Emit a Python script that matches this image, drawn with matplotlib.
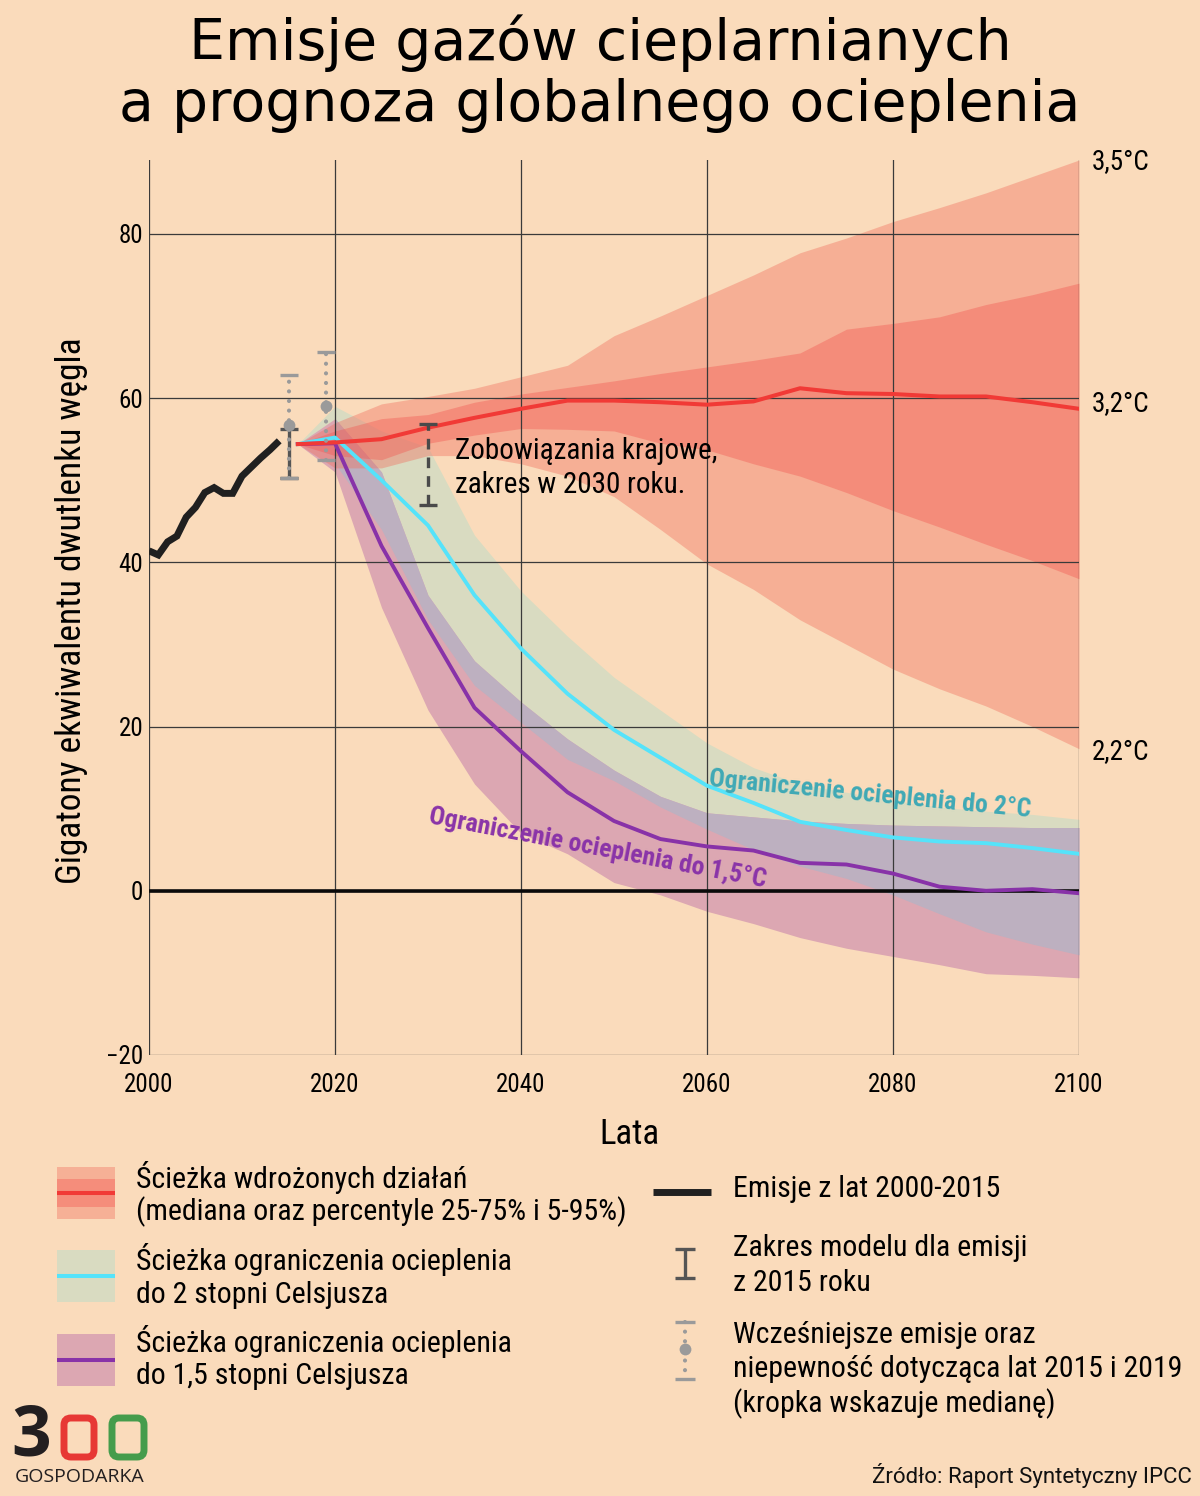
import numpy as np
import matplotlib
matplotlib.use("Agg")
import matplotlib.pyplot as plt
from matplotlib import font_manager as fm
from matplotlib.patches import FancyBboxPatch, Rectangle

# Emissions 2000-2014
hist_years = list(range(2000, 2015))
hist_vals = [41.4, 40.9, 42.5, 43.2, 45.5, 46.7, 48.5, 49.1, 48.4, 48.4, 50.5, 51.6, 52.7, 53.7, 54.8]

# Scenario years
years = [2016, 2020, 2025, 2030, 2035, 2040, 2045, 2050, 2055, 2060, 2065, 2070, 2075, 2080, 2085, 2090, 2095, 2100]

# Current policies path
red_med = [54.4, 54.6, 55.0, 56.4, 57.6, 58.7, 59.7, 59.7, 59.5, 59.2, 59.6, 61.2, 60.6, 60.5, 60.2, 60.2, 59.5, 58.7]
red_p95 = [54.4, 57.0, 59.3, 60.2, 61.2, 62.6, 64.0, 67.6, 70.0, 72.5, 75.0, 77.7, 79.5, 81.5, 83.2, 85.0, 87.0, 89.0]
red_p75 = [54.4, 56.0, 57.5, 58.0, 59.5, 60.5, 61.3, 62.1, 63.0, 63.8, 64.6, 65.5, 68.4, 69.1, 69.9, 71.4, 72.6, 74.0]
red_p25 = [54.4, 53.0, 52.5, 54.5, 55.5, 56.3, 56.2, 56.0, 54.5, 53.7, 52.0, 50.5, 48.5, 46.3, 44.3, 42.2, 40.2, 38.0]
red_p05 = [54.4, 51.5, 51.5, 53.0, 53.0, 52.0, 50.5, 48.0, 44.0, 39.8, 36.7, 33.0, 30.0, 27.0, 24.6, 22.5, 20.0, 17.3]

# 2 degree path
c2_med = [54.4, 55.2, 50.0, 44.5, 36.0, 29.5, 24.0, 19.6, 16.2, 12.8, 10.7, 8.4, 7.4, 6.5, 6.0, 5.8, 5.2, 4.5]
c2_hi = [54.4, 59.0, 56.0, 54.0, 43.3, 36.5, 31.0, 26.0, 22.0, 18.0, 15.0, 13.0, 12.0, 11.0, 10.2, 9.7, 9.3, 8.7]
c2_lo = [54.4, 52.0, 44.0, 33.0, 25.0, 20.5, 16.0, 13.4, 10.2, 7.5, 5.0, 3.0, 1.5, -0.5, -2.8, -5.0, -6.5, -7.8]

# 1.5 degree path
c15_med = [54.4, 54.5, 42.0, 32.0, 22.3, 17.0, 12.0, 8.5, 6.3, 5.4, 4.9, 3.4, 3.2, 2.1, 0.5, 0.0, 0.2, -0.3]
c15_hi = [54.4, 57.5, 51.0, 36.0, 28.0, 23.0, 18.5, 14.7, 11.5, 9.5, 9.0, 8.5, 8.2, 8.0, 7.9, 7.8, 7.7, 7.7]
c15_lo = [54.4, 51.0, 34.5, 22.0, 13.0, 7.0, 4.5, 1.0, -0.5, -2.5, -4.0, -5.7, -7.0, -8.0, -9.0, -10.1, -10.3, -10.6]

# Range bars: year, low, high, median
model_2015 = (2015, 50.3, 56.3)
prior_2015 = (2015, 50.3, 62.8, 56.7)
prior_2019 = (2019, 52.5, 65.6, 59.0)
ndc_2030 = (2030, 47.0, 56.8)

x_ticks = [2000, 2020, 2040, 2060, 2080, 2100]
y_ticks = [-20, 0, 20, 40, 60, 80]

BG = "#FADBBB"
NARROW = ["Roboto Condensed", "Liberation Sans Narrow", "Roboto"]
installed = {f.name for f in fm.fontManager.ttflist}
NARROW = [f for f in NARROW if f in installed]
print(NARROW)

fig = plt.figure(figsize=(12, 14.96), dpi=100, facecolor=BG)
ax = fig.add_axes([149 / 1200, 1 - 1055 / 1496, 930 / 1200, 895 / 1496], facecolor=BG)
ax.set_xlim(2000, 2100)
ax.set_ylim(-20, 89)

# Bands
ax.fill_between(years, c2_lo, c2_hi, color="#D9DBC1", lw=0, zorder=1)
ax.fill_between(years, c15_lo, c15_hi, color="#DCA7B2", lw=0, zorder=1.1)
lap_lo = np.maximum(c2_lo, c15_lo)
lap_hi = np.minimum(c2_hi, c15_hi)
ax.fill_between(years, lap_lo, lap_hi, where=lap_hi > lap_lo, color="#BDB0C0", lw=0, zorder=1.2)
ax.fill_between(years, red_p05, red_p95, color="#F06F5E", alpha=0.4, lw=0, zorder=1.3)
ax.fill_between(years, red_p25, red_p75, color="#F35852", alpha=0.4, lw=0, zorder=1.4)

ax.set_axisbelow(False)
ax.grid(True, color="#3A3A3A", lw=0.9)
for spine in ax.spines.values():
    spine.set_visible(False)
ax.set_xticks(x_ticks)
ax.set_yticks(y_ticks)
ax.tick_params(length=0, labelsize=18, pad=4)
for lab in ax.get_xticklabels() + ax.get_yticklabels():
    lab.set_family(NARROW)
ax.tick_params(axis="x", pad=13)

ax.axhline(0, color="#0A0A0A", lw=2.6, zorder=2.6)

# Lines
ax.plot(hist_years, hist_vals, color="#202020", lw=5, solid_capstyle="butt", solid_joinstyle="miter", zorder=4)
ax.plot(years, c2_med, color="#55E3FA", lw=2.8, zorder=4.1)
ax.plot(years, c15_med, color="#8832A8", lw=2.8, zorder=4.2)
ax.plot(years, red_med, color="#F13A36", lw=2.9, zorder=4.3)


def range_bar(axis, x, lo, hi, color, ls, lw=2.2, cap=13.5, z=5):
    axis.plot([x, x], [lo, hi], color=color, lw=lw, ls=ls, zorder=z, dash_capstyle="round" if ls[1][0] < 1 else "butt")
    axis.plot([x, x], [lo, hi], ls="none", marker="_", ms=cap, mew=2.4, color=color, zorder=z)


SOLID = (0, (100, 0))
DOTS = (0, (0.01, 2.3))
DASH = (0, (3.2, 2.4))
range_bar(ax, model_2015[0], model_2015[1], model_2015[2], "#555555", SOLID, lw=2.4)
for x, lo, hi, med in (prior_2015, prior_2019):
    range_bar(ax, x, lo, hi, "#9A9A9A", DOTS, lw=3, z=5.2)
    ax.plot([x], [med], marker="o", ms=8.5, color="#9A9A9A", mew=0, zorder=5.3)
range_bar(ax, ndc_2030[0], ndc_2030[1], ndc_2030[2], "#4A4A4A", DASH, lw=2.4, z=5.4)

# Overlay in pixel coordinates for title, legend and notes
ov = fig.add_axes([0, 0, 1, 1], facecolor="none")
ov.set_xlim(0, 1200)
ov.set_ylim(1496, 0)
ov.axis("off")

ov.text(600, 43, "Emisje gazów cieplarnianych", ha="center", va="center", fontsize=41, family="DejaVu Sans", color="black")
ov.text(600, 105, "a prognoza globalnego ocieplenia", ha="center", va="center", fontsize=41, family="DejaVu Sans", color="black")


def label(x, y, s, size=21.5, ha="left", **kw):
    ov.text(x, y, s, ha=ha, va="center", fontsize=size, family=NARROW, color=kw.pop("color", "black"), **kw)


for y, s in ((163, "3,5°C"), (405, "3,2°C"), (753, "2,2°C")):
    label(1092, y, s, size=19.5)

label(72, 611, "Gigatony ekwiwalentu dwutlenku węgla", size=25.5, ha="center", rotation=90)
label(629, 1134, "Lata", size=25, ha="center")
label(455, 451, "Zobowiązania krajowe,", size=21)
label(455, 485, "zakres w 2030 roku.", size=21)
label(870, 795, "Ograniczenie ocieplenia do 2°C", size=18.5, ha="center", rotation=-5.5, color="#3FA9B5", fontweight="bold")
label(598, 848, "Ograniczenie ocieplenia do 1,5°C", size=18.5, ha="center", rotation=-10.8, color="#8A34A8", fontweight="bold")

# Legend swatches
ov.add_patch(Rectangle((57, 1167), 58, 52, color="#F6B096", lw=0))
ov.add_patch(Rectangle((57, 1179), 58, 28, color="#F58D7B", lw=0))
ov.plot([57, 115], [1193, 1193], color="#F13A36", lw=2.9, solid_capstyle="butt")
ov.add_patch(Rectangle((57, 1250), 58, 52, color="#D9DBC1", lw=0))
ov.plot([57, 115], [1276, 1276], color="#55E3FA", lw=2.9, solid_capstyle="butt")
ov.add_patch(Rectangle((57, 1334), 58, 52, color="#DCA7B2", lw=0))
ov.plot([57, 115], [1360, 1360], color="#8832A8", lw=2.9, solid_capstyle="butt")
ov.plot([653, 711], [1192, 1192], color="#202020", lw=5, solid_capstyle="butt")
range_bar(ov, 685, 1249, 1278, "#555555", SOLID, lw=2.4, cap=14.5)
range_bar(ov, 685, 1322, 1379, "#9A9A9A", DOTS, lw=3, cap=14.5)
ov.plot([685], [1349], marker="o", ms=8.5, color="#9A9A9A", mew=0)

label(136, 1177, "Ścieżka wdrożonych działań")
label(136, 1212, "(mediana oraz percentyle 25-75% i 5-95%)")
label(136, 1260, "Ścieżka ograniczenia ocieplenia")
label(136, 1295, "do 2 stopni Celsjusza")
label(136, 1341, "Ścieżka ograniczenia ocieplenia")
label(136, 1376, "do 1,5 stopni Celsjusza")
label(733, 1189, "Emisje z lat 2000-2015")
label(733, 1248, "Zakres modelu dla emisji")
label(733, 1283, "z 2015 roku")
label(733, 1335, "Wcześniejsze emisje oraz")
label(733, 1369, "niepewność dotycząca lat 2015 i 2019")
label(733, 1404, "(kropka wskazuje medianę)")

ov.text(1192, 1476, "Źródło: Raport Syntetyczny IPCC", ha="right", va="center", fontsize=16, family="Roboto", color="#111111")

# Logo
ov.text(31, 1438, "3", ha="center", va="center", fontsize=50, family="Open Sans", fontweight="bold", color="#231F20")
ov.add_patch(FancyBboxPatch((64, 1418), 30, 39, boxstyle="round,pad=0,rounding_size=7", fc="none", ec="#E73835", lw=5))
ov.add_patch(FancyBboxPatch((112, 1418), 32, 39, boxstyle="round,pad=0,rounding_size=7", fc="none", ec="#459C4C", lw=5))
ov.text(80, 1477, "GOSPODARKA", ha="center", va="center", fontsize=14, family="Open Sans", color="#231F20")

fig.savefig("out.png", dpi=100, facecolor=BG)
